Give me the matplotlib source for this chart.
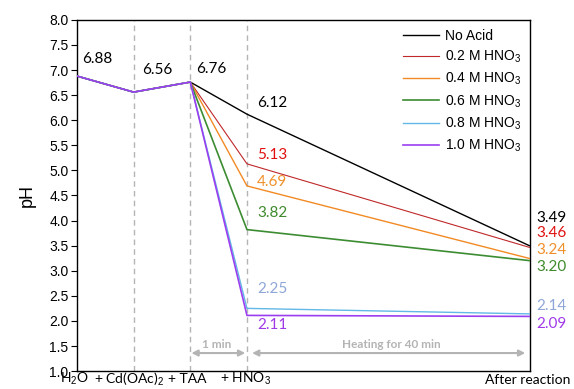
import numpy as np
import matplotlib as mpl
import matplotlib.pyplot as plt
import matplotlib.transforms as mtransforms

mpl.rcParams['font.family'] = ['Liberation Sans', 'DejaVu Sans']
mpl.rcParams['mathtext.fontset'] = 'custom'
mpl.rcParams['mathtext.rm'] = 'Liberation Sans'

# data
steps = [0, 1, 2, 3, 8]
step_labels = ['H$_2$O', '+ Cd(OAc)$_2$', '+ TAA', '+ HNO$_3$', 'After reaction']
series_names = ['No Acid', '0.2 M HNO$_3$', '0.4 M HNO$_3$', '0.6 M HNO$_3$',
                '0.8 M HNO$_3$', '1.0 M HNO$_3$']
no_acid = [6.88, 6.56, 6.76, 6.12, 3.49]
hno3_02 = [6.88, 6.56, 6.76, 5.13, 3.46]
hno3_04 = [6.88, 6.56, 6.76, 4.69, 3.24]
hno3_06 = [6.88, 6.56, 6.76, 3.82, 3.20]
hno3_08 = [6.88, 6.56, 6.76, 2.25, 2.14]
hno3_10 = [6.88, 6.56, 6.76, 2.11, 2.09]
all_series = [no_acid, hno3_02, hno3_04, hno3_06, hno3_08, hno3_10]

LINECOLORS = ['black', '#c0282a', '#f28a24', '#3c8c32', '#62b8e6', '#9a3ef0']
TEXTCOLORS = ['black', '#e01010', '#f0902a', '#3f8a2c', '#8ea6d8', '#a03ae8']
LINEWIDTHS = [1.0, 0.8, 1.0, 1.2, 1.0, 1.2]
GREY = '#b4b4b4'
numfont = 'Lato'

fig = plt.figure(figsize=(5.74, 3.89), dpi=100)
ax = fig.add_axes([0.134, 0.046, 0.790, 0.903])

for i, vals in enumerate(all_series):
    ax.plot(steps, vals, color=LINECOLORS[i], lw=LINEWIDTHS[i],
            label=series_names[i], zorder=3 + i * 0.1)

# dashed guides at each addition step
for s in steps[1:4]:
    ax.axvline(s, color=GREY, ls=(0, (4, 3)), lw=1.0, zorder=1)

# common values before acid (center offsets)
common = no_acid[:3]
common_dx = [0.1, 0.15, 0.1]
common_dy = [0.34, 0.44, 0.26]
for k in range(3):
    ax.text(steps[k] + common_dx[k], common[k] + common_dy[k], f"{common[k]:.2f}",
            fontsize=11, family=numfont, ha='left', va='center')

# values after acid
mid_dy = [0.22, 0.18, 0.08, 0.34, 0.38, -0.20]
for i, vals in enumerate(all_series):
    ax.text(steps[3] + 0.18, vals[3] + mid_dy[i], f"{vals[3]:.2f}",
            fontsize=11, family=numfont, color=TEXTCOLORS[i],
            ha='left', va='center')

# values after reaction, stacked beside the right spine
end_y = [4.06, 3.76, 3.42, 3.08, 2.30, 1.94]
for i, vals in enumerate(all_series):
    ax.text(steps[4] + 0.1, end_y[i], f"{vals[4]:.2f}",
            fontsize=11, family=numfont, color=TEXTCOLORS[i],
            ha='left', va='center', clip_on=False)

# time arrows
arrow_y = 1.36
arrow_kw = dict(arrowstyle='-|>', color=GREY, lw=1.5,
                mutation_scale=9, shrinkA=0, shrinkB=0)
for x0, x1 in [(steps[2] + 0.02, steps[3] - 0.03), (steps[3] + 0.09, steps[4] - 0.09)]:
    xm = (x0 + x1) / 2
    ax.annotate('', xy=(x0, arrow_y), xytext=(xm, arrow_y), arrowprops=arrow_kw)
    ax.annotate('', xy=(x1, arrow_y), xytext=(xm, arrow_y), arrowprops=arrow_kw)
ax.text((steps[2] + steps[3]) / 2 - 0.03, arrow_y + 0.18, '1 min', color=GREY,
        fontsize=8.5, fontweight='bold', family=numfont, ha='center', va='center')
ax.text((steps[3] + steps[4]) / 2 + 0.05, arrow_y + 0.18, 'Heating for 40 min',
        color=GREY, fontsize=8.5, fontweight='bold', family=numfont,
        ha='center', va='center')

ax.set_xlim(0, 8)
ax.set_ylim(1.0, 8.0)
yt = np.arange(1.0, 8.01, 0.5)
ax.set_yticks(yt)
ax.set_yticklabels([f"{v:.1f}" for v in yt], fontsize=10)
ax.set_xticks(steps)
ax.set_xticklabels([])
ax.tick_params(axis='x', length=0)
ax.tick_params(axis='y', length=4, width=0.8, pad=2)
ax.set_ylabel('pH', fontsize=13, labelpad=10)

# step labels drawn as free text below the axis
trans = mtransforms.blended_transform_factory(ax.transData, ax.transAxes)
lab_dx = [-0.04, -0.08, -0.05, -0.03, -0.05]
lab_y = [-0.022, -0.022, -0.022, -0.022, -0.026]
for k, s in enumerate(steps):
    ax.text(s + lab_dx[k], lab_y[k], step_labels[k], transform=trans,
            fontsize=10, family=numfont, ha='center', va='center', clip_on=False)

for sp in ax.spines.values():
    sp.set_linewidth(1.0)

ax.legend(loc='upper right', frameon=False, fontsize=10,
          handlelength=2.6, labelspacing=0.42, borderaxespad=0.25,
          handletextpad=0.4)

plt.savefig('out.png', dpi=100)
